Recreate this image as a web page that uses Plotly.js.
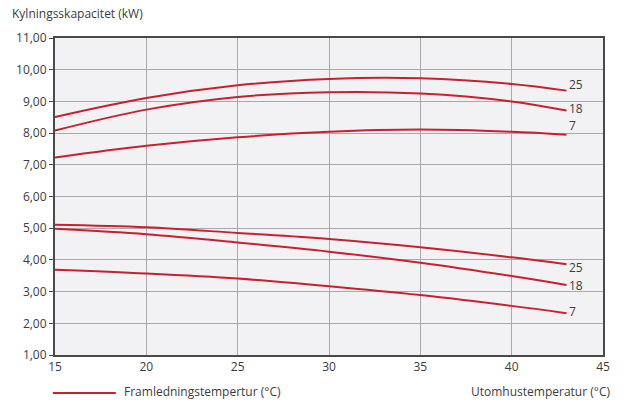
<!DOCTYPE html>
<html>
<head>
<meta charset="utf-8">
<script src="https://cdn.plot.ly/plotly-3.0.1.min.js"></script>
<style>html,body{margin:0;padding:0;background:#fff;}#chart{width:624px;height:403px;}</style>
</head>
<body>
<div id="chart"></div>
<script>
var xTemps = [15, 20, 25, 30, 35, 40, 43];
// Upper group (three flow temperatures)
var upper25 = [8.51, 9.11, 9.51, 9.71, 9.73, 9.55, 9.34];
var upper18 = [8.08, 8.74, 9.14, 9.29, 9.25, 9.00, 8.71];
var upper7  = [7.23, 7.60, 7.87, 8.04, 8.11, 8.04, 7.95];
// Lower group
var lower25 = [5.11, 5.03, 4.85, 4.66, 4.40, 4.08, 3.86];
var lower18 = [4.98, 4.81, 4.55, 4.26, 3.91, 3.49, 3.21];
var lower7  = [3.69, 3.57, 3.41, 3.17, 2.89, 2.55, 2.32];
var seriesLabels = ['25', '18', '7'];
var xTickVals = [15, 20, 25, 30, 35, 40, 45];
var yTickVals = [1, 2, 3, 4, 5, 6, 7, 8, 9, 10, 11];
var yTickText = ['1,00','2,00','3,00','4,00','5,00','6,00','7,00','8,00','9,00','10,00','11,00'];

var red = '#c8202f';
var font = 'Open Sans, Noto Sans, sans-serif';
var textColor = '#3c3c3c';

var groups = [
  {ys: [upper25, upper18, upper7], shifts: [6, 2, 9]},
  {ys: [lower25, lower18, lower7], shifts: [-3, -1, 2]}
];
var traces = [];
var annotations = [];
groups.forEach(function (g) {
  g.ys.forEach(function (ys, i) {
    traces.push({
      x: xTemps, y: ys, type: 'scatter', mode: 'lines',
      line: {color: red, width: 2, shape: 'spline', smoothing: 1},
      showlegend: false, hoverinfo: 'skip'
    });
    annotations.push({
      x: xTemps[xTemps.length - 1], y: ys[ys.length - 1], xref: 'x', yref: 'y',
      text: seriesLabels[i], showarrow: false, xanchor: 'left', yanchor: 'middle',
      xshift: 2, yshift: g.shifts[i], borderpad: 0,
      font: {family: font, size: 12, color: textColor}
    });
  });
});

annotations.push({
  x: -0.083, y: 1.076, xref: 'paper', yref: 'paper', xanchor: 'left', yanchor: 'middle',
  text: 'Kylningsskapacitet (kW)', showarrow: false,
  font: {family: font, size: 12, color: textColor}
});
annotations.push({
  x: 1.016, y: -0.115, xref: 'paper', yref: 'paper', xanchor: 'right', yanchor: 'middle',
  text: 'Utomhustemperatur (°C)', showarrow: false,
  font: {family: font, size: 12, color: textColor}
});
annotations.push({
  x: 0.122, y: -0.115, xref: 'paper', yref: 'paper', xanchor: 'left', yanchor: 'middle',
  text: 'Framledningstempertur (°C)', showarrow: false,
  font: {family: font, size: 12, color: textColor}
});

var layout = {
  width: 624, height: 403,
  margin: {l: 55, r: 21, t: 38, b: 48, pad: 0},
  paper_bgcolor: '#ffffff',
  plot_bgcolor: '#f2f2f4',
  font: {family: font, size: 12, color: textColor},
  xaxis: {
    range: [15, 45], tickvals: xTickVals, ticks: '', showgrid: true,
    gridcolor: '#a9a9a9', gridwidth: 1, zeroline: false,
    showline: true, mirror: true, linecolor: '#4a4a4a', linewidth: 2,
    tickfont: {family: font, size: 12, color: textColor}
  },
  yaxis: {
    range: [1, 11], tickvals: yTickVals, ticktext: yTickText,
    ticks: 'outside', ticklen: 4, tickcolor: '#4a4a4a', showgrid: true,
    gridcolor: '#a9a9a9', gridwidth: 1, zeroline: false,
    showline: true, mirror: true, linecolor: '#4a4a4a', linewidth: 2,
    tickfont: {family: font, size: 12, color: textColor}
  },
  shapes: [{
    type: 'line', xref: 'paper', yref: 'paper',
    x0: -0.004, x1: 0.111, y0: -0.12, y1: -0.12,
    line: {color: red, width: 2}
  }],
  annotations: annotations
};

Plotly.newPlot('chart', traces, layout, {staticPlot: true, displayModeBar: false});
</script>
</body>
</html>
